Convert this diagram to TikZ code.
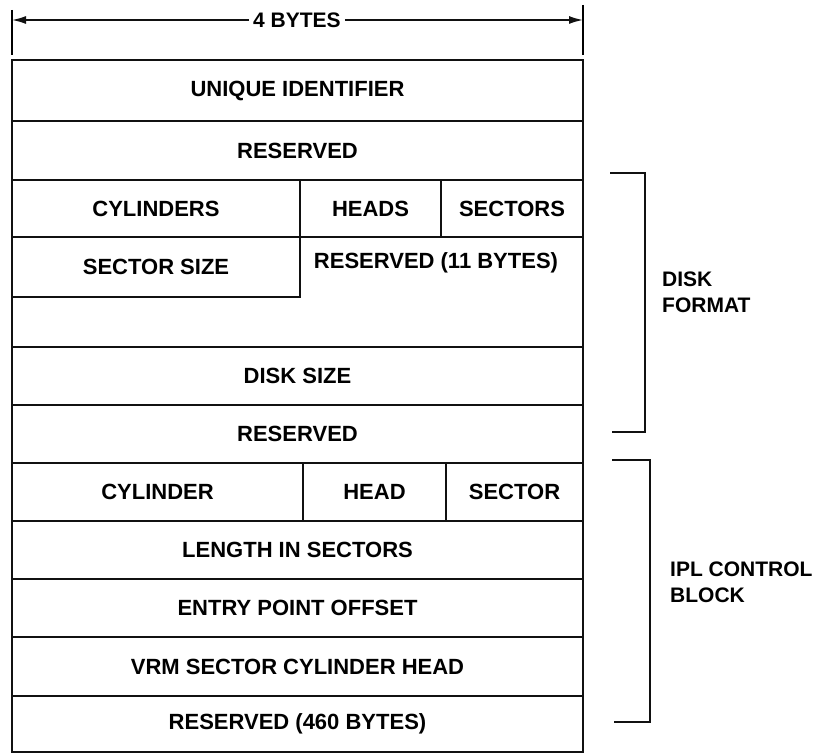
\documentclass[tikz,border=0pt]{standalone}
\usepackage{fontspec}
\setmainfont{Liberation Sans}
\usepackage{tikz}
\usetikzlibrary{arrows.meta}
\usepackage{xcolor}
\definecolor{inkfg}{HTML}{111111}

\begin{document}
\begin{tikzpicture}[
  x=1pt, y=-1pt,
  field/.style={draw=inkfg, line width=2pt, inner sep=0pt, outer sep=0pt,
                align=center, font=\fontsize{22}{25}\selectfont\bfseries},
  label/.style={align=left, anchor=west, inner sep=0pt,
                font=\fontsize{21}{26}\selectfont\bfseries},
  dim/.style={-{Latex[length=14pt,width=8pt]}, line width=1.5pt, color=inkfg},
  bracket/.style={line width=2pt, color=inkfg},
]
  \useasboundingbox (0,0) rectangle (818,754);

  % width marker
  \node[font=\fontsize{21}{24}\selectfont\bfseries, fill=white, inner sep=4pt]
    (bytes) at (297,20) {4 BYTES};
  \coordinate (lt) at (12,20);
  \coordinate (rt) at (583,20);
  \draw[line width=2pt] (12,10) -- (12,55);
  \draw[line width=2pt] (583,5) -- (583,55);
  \draw[dim] (bytes.west) -- (lt);
  \draw[dim] (bytes.east) -- (rt);

  % record fields
  \node[field, minimum width=571, minimum height=61] (uid)  at (297.5,90.5)  {UNIQUE IDENTIFIER};
  \node[field, minimum width=571, minimum height=59] (res1) at (297.5,150.5) {RESERVED};
  \node[field, minimum width=288, minimum height=57] (cyls) at (156,208.5)   {CYLINDERS};
  \node[field, minimum width=141, minimum height=57] (hds)  at (370.5,208.5) {HEADS};
  \node[field, minimum width=142, minimum height=57] (secs) at (512,208.5)   {SECTORS};
  \node[field, minimum width=288, minimum height=60] (ssz)  at (156,267)     {SECTOR SIZE};
  \draw[bracket] (ssz.north east) -- (583,237) -- (583,347) -- (12,347) -- (ssz.south west);
  \node[field, draw=none] (res11) at (436,263) {RESERVED (11 BYTES)};
  \node[field, minimum width=571, minimum height=58] (dsz)  at (297.5,376)   {DISK SIZE};
  \node[field, minimum width=571, minimum height=58] (res2) at (297.5,434)   {RESERVED};
  \node[field, minimum width=291, minimum height=58] (cyl)  at (157.5,492)   {CYLINDER};
  \node[field, minimum width=143, minimum height=58] (hd)   at (374.5,492)   {HEAD};
  \node[field, minimum width=137, minimum height=58] (sec)  at (514.5,492)   {SECTOR};
  \node[field, minimum width=571, minimum height=58] (len)  at (297.5,550)   {LENGTH IN SECTORS};
  \node[field, minimum width=571, minimum height=58] (ept)  at (297.5,608)   {ENTRY POINT OFFSET};
  \node[field, minimum width=571, minimum height=59] (vrm)  at (297.5,666.5) {VRM SECTOR CYLINDER HEAD};
  \node[field, minimum width=571, minimum height=56] (res3) at (297.5,724)   {RESERVED (460 BYTES)};

  % groups
  \draw[bracket] (610,173) -- (645,173) -- (645,432) -- (612,432);
  \node[label] (disk) at (662,292) {DISK\\FORMAT};
  \draw[bracket] (612,460) -- (650,460) -- (650,722) -- (614,722);
  \node[label] (ipl) at (670,582) {IPL CONTROL\\BLOCK};
\end{tikzpicture}
\end{document}
